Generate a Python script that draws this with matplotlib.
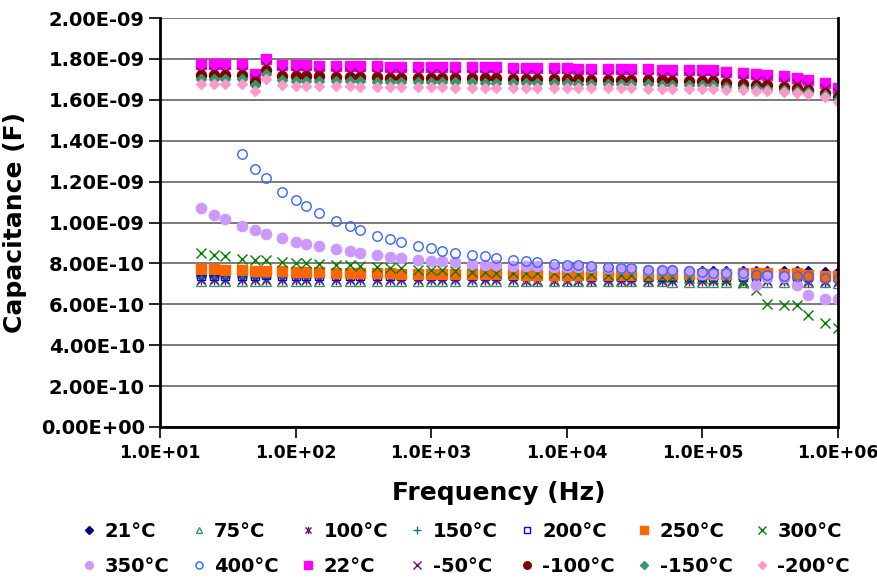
import numpy as np
import matplotlib.pyplot as plt
from matplotlib.path import Path
from matplotlib.ticker import FixedLocator, FuncFormatter, NullLocator

plt.rcParams.update({'font.family': 'DejaVu Sans',
                     'font.weight': 'bold',
                     'axes.labelweight': 'bold'})

# frequency points (Hz)
freq = [20, 25, 30, 40, 50, 60, 80,
        100, 120, 150, 200, 250, 300, 400, 500, 600, 800,
        1e3, 1.2e3, 1.5e3, 2e3, 2.5e3, 3e3, 4e3, 5e3, 6e3, 8e3,
        1e4, 1.2e4, 1.5e4, 2e4, 2.5e4, 3e4, 4e4, 5e4, 6e4, 8e4,
        1e5, 1.2e5, 1.5e5, 2e5, 2.5e5, 3e5, 4e5, 5e5, 6e5, 8e5,
        1e6]

# capacitance, in units of 1e-10 F
c_21 = [7.45, 7.45, 7.45, 7.45, 7.45, 7.46, 7.46,
        7.46, 7.46, 7.47, 7.47, 7.47, 7.48, 7.48, 7.48, 7.49, 7.49,
        7.50, 7.50, 7.50, 7.51, 7.51, 7.52, 7.52, 7.53, 7.53, 7.54,
        7.55, 7.55, 7.56, 7.57, 7.57, 7.58, 7.59, 7.60, 7.60, 7.61,
        7.62, 7.62, 7.63, 7.64, 7.65, 7.65, 7.64, 7.64, 7.62, 7.60,
        7.58]
c_75 = [7.15, 7.15, 7.15, 7.15, 7.15, 7.16, 7.15,
        7.15, 7.15, 7.15, 7.15, 7.15, 7.15, 7.15, 7.15, 7.14, 7.14,
        7.14, 7.14, 7.14, 7.14, 7.14, 7.14, 7.13, 7.13, 7.13, 7.13,
        7.13, 7.13, 7.13, 7.12, 7.12, 7.12, 7.12, 7.12, 7.11, 7.11,
        7.11, 7.11, 7.10, 7.10, 7.10, 7.09, 7.09, 7.08, 7.08, 7.07,
        7.06]
c_100 = [7.19, 7.19, 7.19, 7.19, 7.19, 7.20, 7.19,
         7.19, 7.19, 7.19, 7.19, 7.19, 7.18, 7.18, 7.18, 7.18, 7.18,
         7.18, 7.18, 7.17, 7.17, 7.17, 7.17, 7.17, 7.16, 7.16, 7.16,
         7.16, 7.16, 7.15, 7.15, 7.15, 7.15, 7.14, 7.14, 7.14, 7.14,
         7.14, 7.13, 7.13, 7.13, 7.12, 7.12, 7.12, 7.11, 7.11, 7.10,
         7.10]
c_150 = [7.33, 7.33, 7.33, 7.33, 7.33, 7.34, 7.33,
         7.33, 7.33, 7.33, 7.33, 7.32, 7.32, 7.32, 7.32, 7.32, 7.32,
         7.31, 7.31, 7.31, 7.31, 7.31, 7.31, 7.30, 7.30, 7.30, 7.30,
         7.30, 7.30, 7.29, 7.29, 7.29, 7.29, 7.29, 7.28, 7.28, 7.28,
         7.28, 7.28, 7.27, 7.27, 7.27, 7.27, 7.26, 7.26, 7.26, 7.26,
         7.26]
c_200 = [7.40, 7.40, 7.40, 7.40, 7.40, 7.41, 7.40,
         7.40, 7.40, 7.39, 7.39, 7.39, 7.39, 7.39, 7.38, 7.38, 7.38,
         7.38, 7.38, 7.37, 7.37, 7.37, 7.37, 7.37, 7.36, 7.36, 7.36,
         7.36, 7.36, 7.35, 7.35, 7.35, 7.35, 7.35, 7.34, 7.34, 7.34,
         7.34, 7.34, 7.33, 7.33, 7.33, 7.33, 7.33, 7.32, 7.32, 7.32,
         7.32]
c_250 = [7.75, 7.72, 7.70, 7.67, 7.65, 7.64, 7.61,
         7.60, 7.58, 7.57, 7.55, 7.54, 7.53, 7.52, 7.51, 7.50, 7.49,
         7.48, 7.48, 7.47, 7.47, 7.46, 7.46, 7.46, 7.45, 7.45, 7.45,
         7.45, 7.45, 7.45, 7.45, 7.45, 7.45, 7.45, 7.46, 7.46, 7.47,
         7.47, 7.48, 7.50, 7.51, 7.53, 7.52, 7.50, 7.53, 7.45, 7.40,
         7.37]
c_300 = [8.51, 8.43, 8.35, 8.22, 8.15, 8.15, 8.07,
         8.02, 8.00, 7.98, 7.94, 7.90, 7.89, 7.81, 7.79, 7.77, 7.70,
         7.68, 7.66, 7.63, 7.60, 7.57, 7.55, 7.53, 7.53, 7.52, 7.52,
         7.51, 7.50, 7.48, 7.45, 7.44, 7.43, 7.38, 7.35, 7.32, 7.30,
         7.30, 7.26, 7.24, 7.04, 6.72, 6.03, 5.98, 5.98, 5.49, 5.08,
         4.84]
c_350 = [10.72, 10.39, 10.15, 9.82, 9.61, 9.45, 9.22,
         9.05, 8.96, 8.84, 8.68, 8.59, 8.51, 8.40, 8.32, 8.27, 8.19,
         8.14, 8.10, 8.05, 7.99, 7.94, 7.90, 7.89, 7.85, 7.85, 7.81,
         7.81, 7.80, 7.80, 7.78, 7.77, 7.77, 7.70, 7.70, 7.68, 7.62,
         7.50, 7.50, 7.53, 7.48, 6.95, 7.33, 7.33, 6.95, 6.47, 6.26,
         6.26]
c_400 = [np.nan, np.nan, np.nan, 13.33, 12.60, 12.16, 11.50,
         11.10, 10.82, 10.48, 10.07, 9.81, 9.62, 9.36, 9.17, 9.05, 8.84,
         8.73, 8.63, 8.51, 8.43, 8.34, 8.26, 8.19, 8.10, 8.06, 7.98,
         7.94, 7.92, 7.86, 7.81, 7.77, 7.77, 7.70, 7.70, 7.68, 7.62,
         7.57, 7.55, 7.55, 7.53, 7.45, 7.43, 7.37, 7.40, 7.40, 7.30,
         7.25]
c_22 = [17.75, 17.75, 17.75, 17.74, 17.25, 17.99, 17.70,
        17.68, 17.68, 17.67, 17.66, 17.65, 17.64, 17.63, 17.62, 17.62, 17.61,
        17.60, 17.60, 17.59, 17.59, 17.58, 17.58, 17.57, 17.56, 17.56, 17.55,
        17.54, 17.53, 17.52, 17.52, 17.51, 17.50, 17.49, 17.48, 17.47, 17.46,
        17.45, 17.44, 17.34, 17.29, 17.25, 17.22, 17.14, 17.06, 16.98, 16.80,
        16.57]
c_m50 = [17.38, 17.38, 17.38, 17.37, 17.00, 17.66, 17.34,
         17.32, 17.32, 17.31, 17.30, 17.29, 17.28, 17.27, 17.26, 17.26, 17.25,
         17.24, 17.24, 17.23, 17.23, 17.22, 17.22, 17.21, 17.20, 17.20, 17.19,
         17.18, 17.17, 17.16, 17.16, 17.15, 17.14, 17.13, 17.12, 17.11, 17.10,
         17.09, 17.08, 17.00, 16.96, 16.93, 16.90, 16.83, 16.76, 16.69, 16.53,
         16.31]
c_m100 = [17.22, 17.22, 17.22, 17.21, 16.88, 17.47, 17.17,
          17.15, 17.15, 17.14, 17.13, 17.12, 17.11, 17.10, 17.09, 17.09, 17.08,
          17.07, 17.07, 17.06, 17.06, 17.05, 17.05, 17.04, 17.03, 17.03, 17.02,
          17.01, 17.00, 16.99, 16.99, 16.98, 16.97, 16.96, 16.95, 16.94, 16.93,
          16.92, 16.91, 16.82, 16.78, 16.74, 16.71, 16.63, 16.56, 16.48, 16.33,
          16.14]
c_m150 = [17.01, 17.01, 17.01, 17.00, 16.72, 17.25, 16.96,
          16.94, 16.94, 16.93, 16.92, 16.91, 16.90, 16.89, 16.88, 16.88, 16.87,
          16.86, 16.86, 16.85, 16.85, 16.84, 16.84, 16.83, 16.82, 16.82, 16.81,
          16.80, 16.79, 16.78, 16.78, 16.77, 16.76, 16.75, 16.74, 16.73, 16.72,
          16.71, 16.70, 16.63, 16.60, 16.57, 16.55, 16.50, 16.44, 16.38, 16.22,
          16.03]
c_m200 = [16.76, 16.76, 16.76, 16.75, 16.44, 17.01, 16.71,
          16.69, 16.69, 16.68, 16.67, 16.66, 16.65, 16.64, 16.63, 16.63, 16.62,
          16.61, 16.61, 16.60, 16.60, 16.59, 16.59, 16.59, 16.58, 16.58, 16.58,
          16.58, 16.58, 16.57, 16.57, 16.56, 16.56, 16.55, 16.55, 16.54, 16.54,
          16.53, 16.52, 16.48, 16.46, 16.44, 16.42, 16.40, 16.33, 16.28, 16.12,
          15.90]

labels = ['21°C', '75°C', '100°C', '150°C', '200°C', '250°C', '300°C',
          '350°C', '400°C', '22°C', '-50°C', '-100°C', '-150°C', '-200°C']
series = [c_21, c_75, c_100, c_150, c_200, c_250, c_300,
          c_350, c_400, c_22, c_m50, c_m100, c_m150, c_m200]

# Excel style asterisk: x with a vertical bar
star = Path([(-0.5, -0.5), (0.5, 0.5), (-0.5, 0.5), (0.5, -0.5), (0, -0.6), (0, 0.6)],
            [Path.MOVETO, Path.LINETO, Path.MOVETO, Path.LINETO, Path.MOVETO, Path.LINETO])

# marker, size, face colour, edge colour
styles = [('D', 5.2, '#000080', '#000080'),
          ('^', 6.5, 'none', '#339966'),
          (star, 7.0, 'none', '#800080'),
          ('+', 7.0, 'none', '#008080'),
          ('s', 6.3, 'none', '#0000ff'),
          ('s', 7.2, '#ff6600', '#ff6600'),
          ('x', 7.0, 'none', '#008000'),
          ('o', 7.4, '#cc99ff', '#cc99ff'),
          ('o', 6.8, 'none', '#3366ff'),
          ('s', 7.2, '#ff00ff', '#ff00ff'),
          ('x', 7.0, 'none', '#800080'),
          ('o', 7.2, '#800000', '#800000'),
          ('D', 5.2, '#339966', '#339966'),
          ('D', 5.2, '#ff99cc', '#ff99cc')]

fig = plt.figure(figsize=(8.77, 5.81), dpi=100)
ax = fig.add_axes([160 / 877, 1 - 427 / 581, 678 / 877, 409 / 581])

handles = []
for vals, lab, (m, ms, fc, ec) in zip(series, labels, styles):
    y = np.array(vals) * 1e-10
    h, = ax.plot(freq, y, linestyle='none', marker=m, markersize=ms,
                 markerfacecolor=fc, markeredgecolor=ec, markeredgewidth=1.0,
                 label=lab, clip_on=True)
    handles.append(h)

ax.set_xscale('log')
ax.set_xlim(10, 1e6)
ax.set_ylim(0, 2e-9)
ax.xaxis.set_major_locator(FixedLocator([1e1, 1e2, 1e3, 1e4, 1e5, 1e6]))
ax.xaxis.set_minor_locator(NullLocator())
ax.xaxis.set_major_formatter(FuncFormatter(lambda v, p: '{:.1E}'.format(v)))
ax.yaxis.set_major_locator(FixedLocator(np.arange(0, 2.01e-9, 2e-10)))
ax.yaxis.set_major_formatter(FuncFormatter(lambda v, p: '{:.2E}'.format(abs(v))))
ax.tick_params(axis='both', width=1.2, length=8, pad=3, color='black')
ax.tick_params(axis='y', labelsize=14)
ax.tick_params(axis='x', labelsize=12.5, pad=4)

ax.yaxis.grid(True, color='#707070', linewidth=1.3)
ax.set_axisbelow(True)
for s in ['left', 'bottom']:
    ax.spines[s].set_linewidth(2.0)
ax.spines['right'].set_linewidth(2.0)
ax.spines['top'].set_visible(False)

ax.set_xlabel('Frequency (Hz)', fontsize=18, labelpad=14)
ax.set_ylabel('Capacitance (F)', fontsize=18, labelpad=10)

# legend is two rows of seven, matplotlib fills column-wise
order = []
for c in range(7):
    order += [c, c + 7]
fig.legend([handles[i] for i in order], [labels[i] for i in order],
           ncol=7, loc='center', bbox_to_anchor=(0.531, 0.055),
           frameon=False, fontsize=14, markerscale=0.75,
           handlelength=0.8, handletextpad=0.4, columnspacing=1.1,
           labelspacing=0.8, borderaxespad=0)

fig.savefig('out.png', dpi=100)
